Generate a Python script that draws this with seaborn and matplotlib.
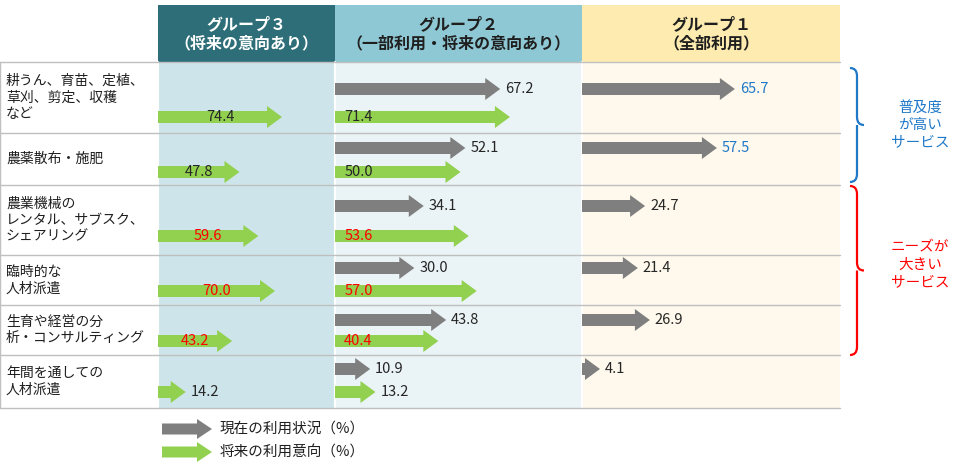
import numpy as np
import matplotlib
matplotlib.use("Agg")
import matplotlib.pyplot as plt
from matplotlib.patches import Rectangle, PathPatch
from matplotlib.path import Path
import seaborn as sns

sns.set_theme(style="white", font="Noto Sans CJK JP")

ROW_LABELS = [
    "耕うん、育苗、定植、\n草刈、剪定、収穫\nなど",
    "農薬散布・施肥",
    "農業機械の\nレンタル、サブスク、\nシェアリング",
    "臨時的な\n人材派遣",
    "生育や経営の分\n析・コンサルティング",
    "年間を通しての\n人材派遣",
]
GROUPS = ["グループ３\n（将来の意向あり）", "グループ２\n（一部利用・将来の意向あり）", "グループ１\n（全部利用）"]
CURRENT = [None, [67.2, 52.1, 34.1, 30.0, 43.8, 10.9], [65.7, 57.5, 24.7, 21.4, 26.9, 4.1]]
FUTURE = [[74.4, 47.8, 59.6, 70.0, 43.2, 14.2], [71.4, 50.0, 53.6, 57.0, 40.4, 13.2], None]
LEGEND_LABELS = ["現在の利用状況（%）", "将来の利用意向（%）"]

GRAY = "#7F7F7F"
GREEN = "#92D050"
HEAD_BG = ["#2E6E78", "#8EC8D4", "#FDEBB0"]
HEAD_FG = ["white", "#1F1F1F", "#1F1F1F"]
BODY_BG = ["#CDE5EA", "#EAF3F5", "#FEF9EC"]
COL_X = [158, 335, 582, 840]
PX_PER_UNIT = [1.6, 2.31, 2.19]
OFFSET_PX = [5, 10, 9]
ROW_Y = [62, 133, 185, 255, 305, 355, 408]
CUR_Y = [89, 148, 206, 268, 320, 369]
FUT_Y = [117, 172, 236, 291, 341, 392]
FS = 10.5

fig = plt.figure(figsize=(9.6, 4.65), dpi=100)
ax = fig.add_axes([0, 0, 1, 1])
ax.set_xlim(0, 960)
ax.set_ylim(465, 0)
ax.axis("off")

for g in range(3):
    x0, x1 = COL_X[g], COL_X[g + 1]
    ax.add_patch(Rectangle((x0, 5), x1 - x0, 57, color=HEAD_BG[g], lw=0))
    ax.add_patch(Rectangle((x0, 62), x1 - x0, 346, color=BODY_BG[g], lw=0))
    ax.text((x0 + x1) / 2, 34, GROUPS[g], ha="center", va="center", fontsize=11.5,
            fontweight="bold", color=HEAD_FG[g], linespacing=1.25)
    ax.plot([x0, x0], [62, 408], color="white", lw=1.5)

for i, lab in enumerate(ROW_LABELS):
    ax.text(6, (ROW_Y[i] + ROW_Y[i + 1]) / 2, lab, ha="left", va="center",
            fontsize=10, color="#1F1F1F", linespacing=1.25)
for y in ROW_Y:
    ax.plot([0, 840], [y, y], color="#BFBFBF", lw=1)
ax.plot([0, 0], [62, 408], color="#BFBFBF", lw=1)


def draw_arrow(a, y, v, color, g):
    scale = PX_PER_UNIT[g]
    length = v + OFFSET_PX[g] / scale
    a.arrow(0, y, length, 0, width=12, head_width=22, head_length=15 / scale,
            length_includes_head=True, color=color, lw=0)
    return length


for g in range(3):
    x0, x1 = COL_X[g], COL_X[g + 1]
    sub = fig.add_axes([x0 / 960, 0, (x1 - x0) / 960, 1])
    sub.set_xlim(0, (x1 - x0) / PX_PER_UNIT[g])
    sub.set_ylim(465, 0)
    sub.axis("off")
    sub.patch.set_alpha(0)
    pad = 5 / PX_PER_UNIT[g]
    if CURRENT[g] is not None:
        for i, v in enumerate(CURRENT[g]):
            end = draw_arrow(sub, CUR_Y[i], v, GRAY, g)
            col = "#1F78C8" if (g == 2 and i < 2) else "#262626"
            sub.text(end + pad, CUR_Y[i], f"{v:.1f}", ha="left", va="center", fontsize=FS, color=col)
    if FUTURE[g] is not None:
        for i, v in enumerate(FUTURE[g]):
            end = draw_arrow(sub, FUT_Y[i], v, GREEN, g)
            col = "#FF0000" if i in (2, 3, 4) else "#262626"
            if v < 20:
                sub.text(end + pad, FUT_Y[i], f"{v:.1f}", ha="left", va="center", fontsize=FS, color="#262626")
            elif g == 0:
                sub.text(end / 2, FUT_Y[i], f"{v:.1f}", ha="center", va="center", fontsize=FS, color=col)
            else:
                sub.text(4, FUT_Y[i], f"{v:.1f}", ha="left", va="center", fontsize=FS, color=col)


def brace(y0, y1, color):
    x0, w = 850, 14
    ym = (y0 + y1) / 2
    verts = [(x0, y0), (x0 + w / 2, y0), (x0 + w / 2, y0 + 8),
             (x0 + w / 2, ym - 8), (x0 + w / 2, ym), (x0 + w, ym),
             (x0 + w / 2, ym), (x0 + w / 2, ym + 8),
             (x0 + w / 2, y1 - 8), (x0 + w / 2, y1), (x0, y1)]
    codes = [Path.MOVETO, Path.CURVE3, Path.CURVE3, Path.LINETO, Path.CURVE3, Path.CURVE3,
             Path.MOVETO, Path.CURVE3, Path.LINETO, Path.CURVE3, Path.CURVE3]
    ax.add_patch(PathPatch(Path(verts, codes), fill=False, edgecolor=color, lw=1.6))


brace(68, 182, "#1F78C8")
ax.text(920, 125, "普及度\nが高い\nサービス", ha="center", va="center", fontsize=10.5,
        color="#1F78C8", linespacing=1.3)
brace(186, 355, "#FF0000")
ax.text(920, 265, "ニーズが\n大きい\nサービス", ha="center", va="center", fontsize=10.5,
        color="#FF0000", linespacing=1.3)

for k, (lab, color) in enumerate(zip(LEGEND_LABELS, [GRAY, GREEN])):
    y = 429 + k * 23
    ax.arrow(162, y, 50, 0, width=11, head_width=20, head_length=15,
             length_includes_head=True, color=color, lw=0)
    ax.text(220, y, lab, ha="left", va="center", fontsize=10.5, color="#1F1F1F")

fig.savefig("out.png", dpi=100)
